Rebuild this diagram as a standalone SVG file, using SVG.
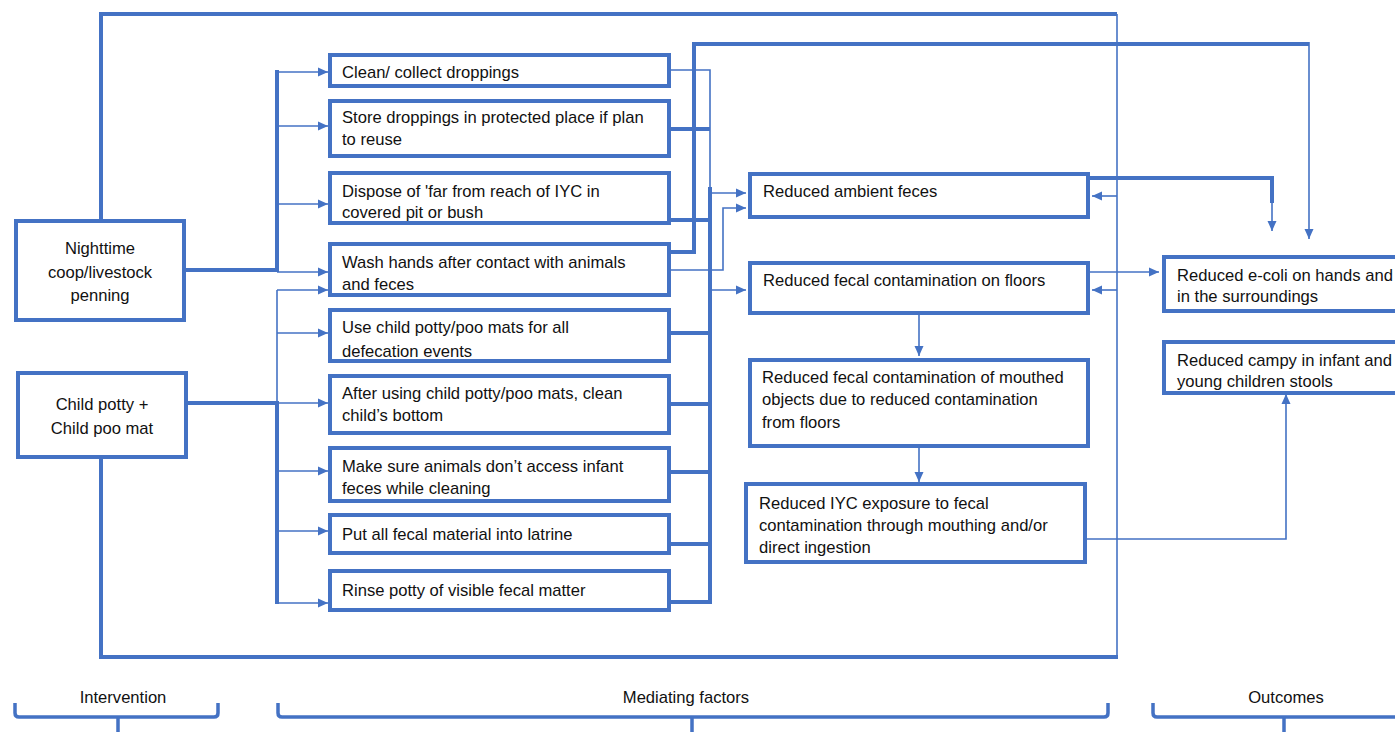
<svg xmlns="http://www.w3.org/2000/svg" width="1395" height="732" viewBox="0 0 1395 732">
<style>
.box{fill:#fff;stroke:#4472C4;stroke-width:4}
.t{font-family:"Liberation Sans",Arial,sans-serif;font-size:16.6px;fill:#111}
.c{text-anchor:middle}
.thick{fill:none;stroke:#4472C4;stroke-width:4}
.thin{fill:none;stroke:#4472C4;stroke-width:1.6}
.arr{fill:none;stroke:#4472C4;stroke-width:1.6;marker-end:url(#ah)}
.brace{fill:none;stroke:#4472C4;stroke-width:3.5}
</style>
<defs>
<marker id="ah" markerUnits="userSpaceOnUse" markerWidth="10" markerHeight="10" refX="10" refY="5" orient="auto">
<path d="M0,0.5 L10,5 L0,9.5 z" fill="#4472C4"/>
</marker>
</defs>
<rect width="1395" height="732" fill="#fff"/>
<g id="connectors">
<path class="thick" d="M101,221 V14 H1117"/>
<path class="thin" d="M1117,14 V657"/>
<path class="thick" d="M101,457 V657 H1118"/>
<path class="arr" d="M1117,196 H1092"/>
<path class="arr" d="M1117,290 H1092"/>
<path class="thick" d="M184,270 H277 M277,70 V272"/>
<path class="arr" d="M277,72 H328"/>
<path class="arr" d="M277,126 H328"/>
<path class="arr" d="M277,204 H328"/>
<path class="arr" d="M277,272 H328"/>
<path class="thick" d="M186,403 H277 M277,401 V604"/>
<path class="thin" d="M277,403 V290"/>
<path class="arr" d="M277,290 H328"/>
<path class="arr" d="M277,333 H328"/>
<path class="arr" d="M277,403 H328"/>
<path class="arr" d="M277,471 H328"/>
<path class="arr" d="M277,531 H328"/>
<path class="arr" d="M277,603 H328"/>
<path class="thin" d="M669,70 H710 V190"/>
<path class="thick" d="M669,129 H710 M669,220 H710 M710,187 V604"/>
<path class="arr" d="M710,193 H746"/>
<path class="thick" d="M669,252 H694 V44 H1309"/>
<path class="arr" d="M1309,42 V239"/>
<path class="arr" d="M669,270 H723 V208 H746"/>
<path class="arr" d="M710,290 H746"/>
<path class="thick" d="M669,333 H710 M669,404 H710 M669,472 H710 M669,544 H710 M669,602 H710"/>
<path class="thick" d="M1088,178 H1272 V203"/>
<path class="arr" d="M1272,201 V231"/>
<path class="arr" d="M1088,272 H1159"/>
<path class="arr" d="M919,313 V356"/>
<path class="arr" d="M919,446 V482"/>
<path class="arr" d="M1085,539 H1286 V394"/>
</g>
<g id="n-nighttime"><rect class="box" x="16" y="221" width="168" height="99"/>
<text class="t c" x="100" y="254">Nighttime</text><text class="t c" x="100" y="278">coop/livestock</text><text class="t c" x="100" y="301">penning</text></g>
<g id="n-child"><rect class="box" x="18" y="373" width="168" height="84"/>
<text class="t c" x="102" y="410">Child potty +</text><text class="t c" x="102" y="434">Child poo mat</text></g>
<g id="n-clean"><rect class="box" x="330" y="55" width="339" height="31"/>
<text class="t" x="342" y="78">Clean/ collect droppings</text></g>
<g id="n-store"><rect class="box" x="330" y="101" width="339" height="55"/>
<text class="t" x="342" y="123">Store droppings in protected place if plan</text><text class="t" x="342" y="145">to reuse</text></g>
<g id="n-dispose"><rect class="box" x="330" y="173" width="339" height="50"/>
<text class="t" x="342" y="197">Dispose of 'far from reach of IYC in</text><text class="t" x="342" y="218">covered pit or bush</text></g>
<g id="n-wash"><rect class="box" x="330" y="244" width="339" height="51"/>
<text class="t" x="342" y="268">Wash hands after contact with animals</text><text class="t" x="342" y="290">and feces</text></g>
<g id="n-use"><rect class="box" x="330" y="310" width="339" height="51"/>
<text class="t" x="342" y="333">Use child potty/poo mats for all</text><text class="t" x="342" y="357">defecation events</text></g>
<g id="n-after"><rect class="box" x="330" y="376" width="339" height="57"/>
<text class="t" x="342" y="399">After using child potty/poo mats, clean</text><text class="t" x="342" y="421">child’s bottom</text></g>
<g id="n-make"><rect class="box" x="330" y="448" width="339" height="53"/>
<text class="t" x="342" y="472">Make sure animals don’t access infant</text><text class="t" x="342" y="494">feces while cleaning</text></g>
<g id="n-put"><rect class="box" x="330" y="515" width="339" height="38"/>
<text class="t" x="342" y="540">Put all fecal material into latrine</text></g>
<g id="n-rinse"><rect class="box" x="330" y="571" width="339" height="39"/>
<text class="t" x="342" y="596">Rinse potty of visible fecal matter</text></g>
<g id="n-ambient"><rect class="box" x="750" y="174" width="338" height="43"/>
<text class="t" x="763" y="197">Reduced ambient feces</text></g>
<g id="n-floors"><rect class="box" x="750" y="263" width="338" height="50"/>
<text class="t" x="763" y="286">Reduced fecal contamination on floors</text></g>
<g id="n-mouthed"><rect class="box" x="750" y="360" width="338" height="86"/>
<text class="t" x="762" y="383">Reduced fecal contamination of mouthed</text><text class="t" x="762" y="405">objects due to reduced contamination</text><text class="t" x="762" y="428">from floors</text></g>
<g id="n-iyc"><rect class="box" x="746" y="484" width="339" height="78"/>
<text class="t" x="759" y="509">Reduced IYC exposure to fecal</text><text class="t" x="759" y="531">contamination through mouthing and/or</text><text class="t" x="759" y="553">direct ingestion</text></g>
<g id="n-ecoli"><rect class="box" x="1164" y="257" width="240" height="54"/>
<text class="t" x="1177" y="281">Reduced e-coli on hands and</text><text class="t" x="1177" y="302">in the surroundings</text></g>
<g id="n-campy"><rect class="box" x="1164" y="342" width="240" height="51"/>
<text class="t" x="1177" y="366">Reduced campy in  infant and</text><text class="t" x="1177" y="387">young children stools</text></g>
<g id="labels">
<text class="t c" x="123" y="703">Intervention</text>
<path class="brace" d="M15,703 V713 Q15,717 19,717 H214 Q218,717 218,713 V703 M118,717 V732"/>
<text class="t c" x="686" y="703">Mediating factors</text>
<path class="brace" d="M278,703 V713 Q278,717 282,717 H1104 Q1108,717 1108,713 V703 M692,717 V732"/>
<text class="t c" x="1286" y="703">Outcomes</text>
<path class="brace" d="M1153,703 V713 Q1153,717 1157,717 H1400 M1284,717 V732"/>
</g>
</svg>
